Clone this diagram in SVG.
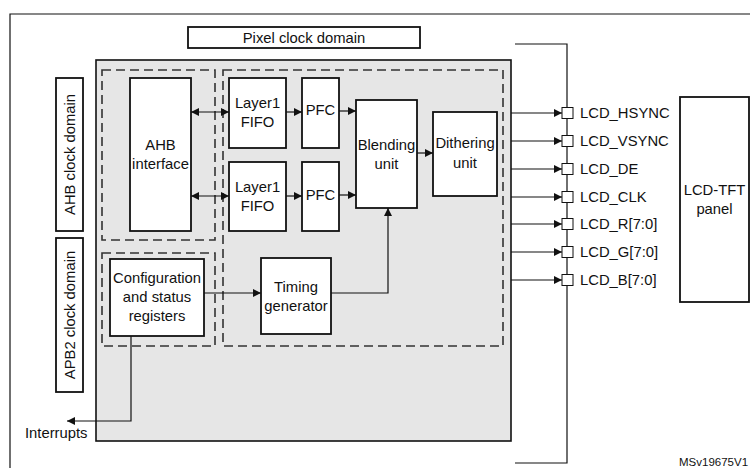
<svg xmlns="http://www.w3.org/2000/svg" width="750" height="468" viewBox="0 0 750 468">
<style>
text{font-family:"Liberation Sans",Arial,sans-serif;font-size:14.8px;fill:#111}
.c{text-anchor:middle}
.box{fill:#fff;stroke:#111;stroke-width:1.8}
.dash{fill:none;stroke:#333;stroke-width:1.6;stroke-dasharray:9 5}
.ln{fill:none;stroke:#111;stroke-width:1.2}
.ar{fill:none;stroke:#111;stroke-width:1.2;marker-end:url(#ah)}
.ar2{fill:none;stroke:#111;stroke-width:1.2;marker-end:url(#ah);marker-start:url(#ah)}
.pin{fill:#fff;stroke:#111;stroke-width:1}
</style>
<defs>
<marker id="ah" viewBox="0 0 10 10" refX="10" refY="5" markerWidth="8" markerHeight="8" markerUnits="userSpaceOnUse" orient="auto-start-reverse">
<path d="M0,0 L10,5 L0,10 Z" fill="#111"/>
</marker>
</defs>
<rect width="750" height="468" fill="#fff"/>
<path class="ln" d="M10,468 V14 H750"/>
<g id="pixel-domain"><rect class="box" x="188" y="27" width="232" height="21" stroke-width="1.5"/><text class="c" x="304" y="43">Pixel clock domain</text></g>
<g id="ltdc"><rect x="96" y="60" width="415" height="381" fill="#e6e6e6" stroke="#111" stroke-width="1.6"/></g>
<g id="regions">
<rect class="dash" x="102" y="70" width="113" height="170"/>
<rect class="dash" x="102" y="253" width="113" height="93"/>
<rect class="dash" x="223" y="70" width="280" height="276"/>
</g>
<g id="ahb-domain"><rect class="box" x="56" y="78" width="27" height="153"/><text class="c" transform="translate(75,154.5) rotate(-90)">AHB clock domain</text></g>
<g id="apb2-domain"><rect class="box" x="56" y="238" width="27" height="154"/><text class="c" transform="translate(75,315) rotate(-90)">APB2 clock domain</text></g>
<g id="ahb-interface"><rect class="box" x="130" y="78" width="61" height="153"/><text class="c" x="160.5" y="150">AHB</text><text class="c" x="160.5" y="169">interface</text></g>
<g id="fifo1"><rect class="box" x="229" y="78" width="57" height="70"/><text class="c" x="257.5" y="108">Layer1</text><text class="c" x="257.5" y="127">FIFO</text></g>
<g id="fifo2"><rect class="box" x="229" y="162" width="57" height="69"/><text class="c" x="257.5" y="192">Layer1</text><text class="c" x="257.5" y="211">FIFO</text></g>
<g id="pfc1"><rect class="box" x="302" y="78" width="37" height="70"/><text class="c" x="320.5" y="115">PFC</text></g>
<g id="pfc2"><rect class="box" x="302" y="162" width="37" height="69"/><text class="c" x="320.5" y="200">PFC</text></g>
<g id="blending"><rect class="box" x="356" y="100" width="61" height="108"/><text class="c" x="386.5" y="150">Blending</text><text class="c" x="386.5" y="169">unit</text></g>
<g id="dithering"><rect class="box" x="433" y="112" width="64" height="84"/><text class="c" x="465" y="148">Dithering</text><text class="c" x="465" y="168">unit</text></g>
<g id="timing"><rect class="box" x="261" y="258" width="70" height="76"/><text class="c" x="296" y="292">Timing</text><text class="c" x="296" y="311">generator</text></g>
<g id="config"><rect class="box" x="110" y="259" width="94" height="77"/><text class="c" x="157" y="283">Configuration</text><text class="c" x="157" y="302">and status</text><text class="c" x="157" y="321">registers</text></g>
<g id="panel"><rect class="box" x="680" y="97" width="69" height="205"/><text class="c" x="714.5" y="195">LCD-TFT</text><text class="c" x="714.5" y="214">panel</text></g>
<g id="connectors">
<path class="ar2" d="M191,112 H229"/>
<path class="ar2" d="M191,196 H229"/>
<path class="ar" d="M286,112 H302"/>
<path class="ar" d="M286,196 H302"/>
<path class="ar" d="M339,111 H356"/>
<path class="ar" d="M339,195 H356"/>
<path class="ar" d="M417,153 H433"/>
<path class="ar" d="M204,293 H261"/>
<path class="ar" d="M331,293 H388 V208"/>
<path class="ar" d="M131,336 V421 H67"/>
<path class="ln" d="M515,44 H567 V463 H515"/>
<path class="ar" d="M511,113 H562"/>
<path class="ar" d="M511,141 H562"/>
<path class="ar" d="M511,169 H562"/>
<path class="ar" d="M511,197 H562"/>
<path class="ar" d="M511,224 H562"/>
<path class="ar" d="M511,252 H562"/>
<path class="ar" d="M511,280 H562"/>
</g>
<g id="pins">
<rect class="pin" x="562" y="107.5" width="11" height="11"/>
<rect class="pin" x="562" y="135.5" width="11" height="11"/>
<rect class="pin" x="562" y="163.5" width="11" height="11"/>
<rect class="pin" x="562" y="191.5" width="11" height="11"/>
<rect class="pin" x="562" y="218.5" width="11" height="11"/>
<rect class="pin" x="562" y="246.5" width="11" height="11"/>
<rect class="pin" x="562" y="274.5" width="11" height="11"/>
<text x="580" y="118">LCD_HSYNC</text>
<text x="580" y="146">LCD_VSYNC</text>
<text x="580" y="174">LCD_DE</text>
<text x="580" y="202">LCD_CLK</text>
<text x="580" y="229">LCD_R[7:0]</text>
<text x="580" y="257">LCD_G[7:0]</text>
<text x="580" y="285">LCD_B[7:0]</text>
</g>
<text x="25" y="438">Interrupts</text>
<text x="679" y="466" style="font-size:11.5px">MSv19675V1</text>
</svg>
